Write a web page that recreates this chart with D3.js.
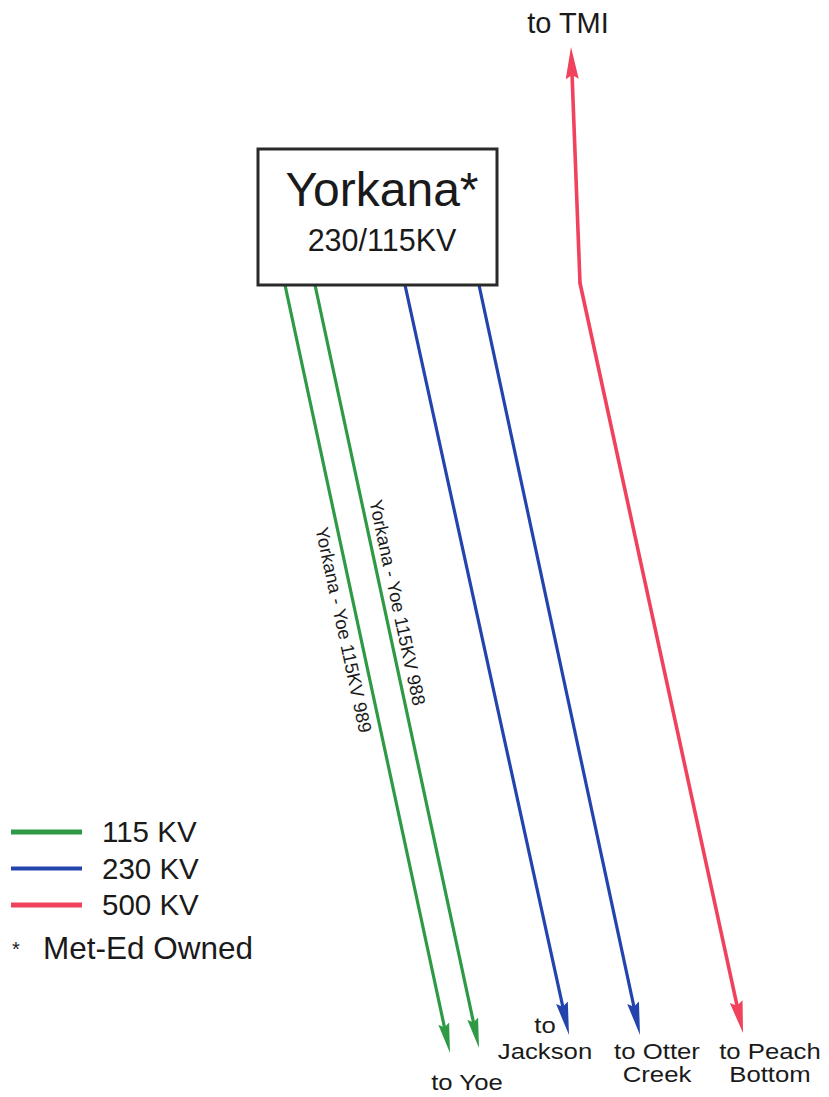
<!DOCTYPE html>
<html>
<head>
<meta charset="utf-8">
<script src="https://cdn.jsdelivr.net/npm/d3@7"></script>
<style>
  html, body { margin: 0; padding: 0; background: #fff; }
  svg text { font-family: "Liberation Sans", Arial, Helvetica, sans-serif; fill: #1a1a1a; }
</style>
</head>
<body>
<svg width="829" height="1097"></svg>
<script>
// station
var stationName = "Yorkana*";
var stationRating = "230/115KV";

// voltage classes (legend)
var voltages = [115, 230, 500];
var voltageLabels = ["115 KV", "230 KV", "500 KV"];
var ownerNote = "Met-Ed Owned";

// circuits leaving the station (schematic units, y grows downward)
var circuitKV = [115, 115, 230, 230, 500, 500];
var circuitX = [[285, 450], [315, 479], [405, 569], [479, 640], [580, 743], [580, 571]];
var circuitY = [[285, 1053], [285, 1048], [285, 1035], [285, 1035], [283, 1033], [283, 47]];
var circuitNames = ["Yorkana - Yoe 115KV 989", "Yorkana - Yoe 115KV 988", "", "", "", ""];

// destination labels
var destinations = [["to Yoe"], ["to", "Jackson"], ["to Otter", "Creek"], ["to Peach", "Bottom"], ["to TMI"]];

var svg = d3.select("svg");
var width = +svg.attr("width");
var height = +svg.attr("height");

var x = d3.scaleLinear().domain([0, 829]).range([0, width]);
var y = d3.scaleLinear().domain([0, 1097]).range([0, height]);

var color = d3.scaleOrdinal()
  .domain(voltages)
  .range(["#2f9a45", "#2444ad", "#f0425c"]);
var strokeW = d3.scaleOrdinal().domain(voltages).range([3.2, 3.2, 3.6]);
var headLen = d3.scaleOrdinal().domain(voltages).range([30, 33, 32]);
var headW = d3.scaleOrdinal().domain(voltages).range([11, 12, 13]);

var circuits = circuitKV.map((kv, i) => ({
  kv: kv,
  name: circuitNames[i],
  x0: x(circuitX[i][0]), y0: y(circuitY[i][0]),
  x1: x(circuitX[i][1]), y1: y(circuitY[i][1])
}));

// lines (stop short of the tip so the arrowhead is clean)
svg.append("g").selectAll("line")
  .data(circuits)
  .join("line")
    .attr("x1", d => d.x0)
    .attr("y1", d => d.y0)
    .attr("x2", d => {
      var L = Math.hypot(d.x1 - d.x0, d.y1 - d.y0);
      return d.x1 - (d.x1 - d.x0) / L * (headLen(d.kv) - 4);
    })
    .attr("y2", d => {
      var L = Math.hypot(d.x1 - d.x0, d.y1 - d.y0);
      return d.y1 - (d.y1 - d.y0) / L * (headLen(d.kv) - 4);
    })
    .attr("stroke", d => color(d.kv))
    .attr("stroke-width", d => strokeW(d.kv))
    .attr("stroke-linecap", "round");

// arrowheads
svg.append("g").selectAll("path")
  .data(circuits)
  .join("path")
    .attr("d", d => {
      var L = Math.hypot(d.x1 - d.x0, d.y1 - d.y0);
      var ux = (d.x1 - d.x0) / L, uy = (d.y1 - d.y0) / L;
      var bx = d.x1 - ux * headLen(d.kv), by = d.y1 - uy * headLen(d.kv);
      var hw = headW(d.kv) / 2;
      return "M" + d.x1 + "," + d.y1 +
        "L" + (bx - uy * hw) + "," + (by + ux * hw) +
        "L" + (bx + ux * 4) + "," + (by + uy * 4) +
        "L" + (bx + uy * hw) + "," + (by - ux * hw) + "Z";
    })
    .attr("fill", d => color(d.kv));

// circuit names along the 115 KV lines
var named = circuits.filter(d => d.name);
var along = [0.445, 0.42];
var side = [15, -14];
svg.append("g").selectAll("text")
  .data(named)
  .join("text")
    .attr("transform", (d, i) => {
      var px = d.x0 + (d.x1 - d.x0) * along[i];
      var py = d.y0 + (d.y1 - d.y0) * along[i];
      var a = Math.atan2(d.y1 - d.y0, d.x1 - d.x0) * 180 / Math.PI;
      return "translate(" + px + "," + py + ") rotate(" + a + ")";
    })
    .attr("y", (d, i) => side[i])
    .attr("text-anchor", "middle")
    .attr("dominant-baseline", "central")
    .style("font-size", "18.5px")
    .text(d => d.name);

// station box
var box = svg.append("g");
box.append("rect")
  .attr("x", x(258)).attr("y", y(149))
  .attr("width", x(497) - x(258)).attr("height", y(285) - y(149))
  .attr("fill", "#fff")
  .attr("stroke", "#2a2a2a")
  .attr("stroke-width", 3);
box.append("text")
  .attr("x", x(382)).attr("y", y(206))
  .attr("text-anchor", "middle")
  .style("font-size", "48px")
  .text(stationName);
box.append("text")
  .attr("x", x(382)).attr("y", y(251))
  .attr("text-anchor", "middle")
  .style("font-size", "30.5px")
  .text(stationRating);

// destination labels (the scan's lettering is a little wide, hence the x stretch)
var destPos = [[467, 1090], [545, 1033], [657, 1059], [770, 1059], [568, 33]];
var destSize = [22, 22, 22, 22, 29];
var destStretch = [1.17, 1.17, 1.17, 1.17, 1];
var lineGap = [0, 26, 23, 23, 0];
svg.append("g").selectAll("g")
  .data(destinations)
  .join("g")
    .attr("transform", (d, i) => "translate(" + x(destPos[i][0]) + "," + y(destPos[i][1]) + ") scale(" + destStretch[i] + ",1)")
  .append("text")
    .attr("text-anchor", "middle")
    .style("font-size", (d, i) => destSize[i] + "px")
    .each(function(d, i) {
      d3.select(this).selectAll("tspan")
        .data(d)
        .join("tspan")
          .attr("x", 0)
          .attr("dy", (t, j) => j === 0 ? 0 : lineGap[i])
          .text(t => t);
    });

// legend
var legend = svg.append("g").attr("transform", "translate(11, 832)");
var row = legend.selectAll("g")
  .data(voltages)
  .join("g")
    .attr("transform", (d, i) => "translate(0," + (i * 36.5) + ")");
row.append("line")
  .attr("x1", 0).attr("x2", 71)
  .attr("stroke", d => color(d))
  .attr("stroke-width", (d, i) => i === 1 ? 4 : 5);
row.append("text")
  .attr("x", 91).attr("y", 10)
  .style("font-size", "29.5px")
  .text((d, i) => voltageLabels[i]);
legend.append("text")
  .attr("x", 1).attr("y", 124)
  .style("font-size", "20px")
  .text("*");
legend.append("text")
  .attr("x", 32).attr("y", 127)
  .style("font-size", "31.5px")
  .text(ownerNote);
</script>
</body>
</html>
